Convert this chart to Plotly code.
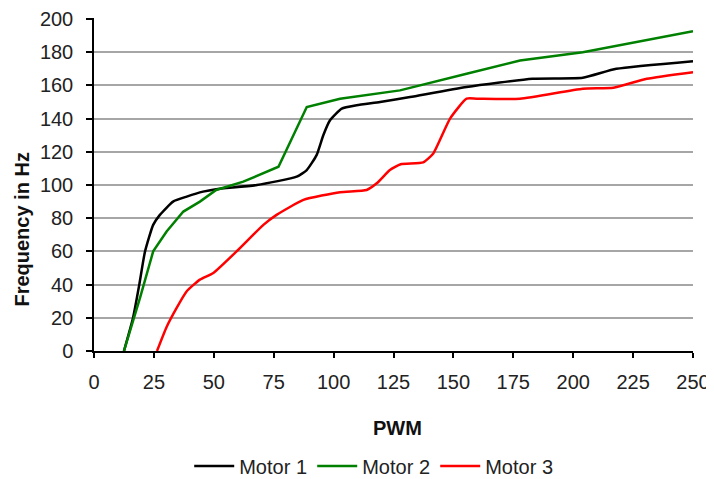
import plotly.graph_objects as go

# PWM / frequency readings per motor
pwm_m1 = [12.5, 16.3, 18.9, 21.3, 24.7, 27.5, 33, 38.7, 45.5, 51, 68, 84.6, 88.8, 92.9,
          95.7, 98.5, 103.4, 109.6, 119.4, 131.9, 155.5, 183, 204, 218, 250]
freq_m1 = [0, 20, 40, 60, 76, 82, 90, 93, 96, 97.5, 100, 105, 109, 118,
           130, 139, 146, 148, 150, 153, 159, 164, 164.6, 170, 174.6]

pwm_m2 = [12.5, 19.2, 24.7, 30.3, 37.3, 44.2, 51, 62.3, 77, 88.8, 102.7, 127.7, 155.5,
          177.8, 204, 250]
freq_m2 = [0, 32, 60, 72, 84, 90, 97, 102, 111, 147, 152, 157, 167,
           175, 180, 192.6]

pwm_m3 = [26.3, 30.3, 34.5, 38.7, 44.2, 49.8, 59.5, 70.7, 76.2, 87.4, 102.7, 113.8, 118,
          123.5, 128, 137.4, 141.6, 148.6, 155.5, 159.7, 177.8, 204, 216.8, 230.7, 250]
freq_m3 = [0, 14.5, 26, 36, 43, 47, 60, 76, 82, 91, 95.7, 97, 101,
           109, 112.5, 113.6, 119, 140, 152, 152, 152, 158, 158.6, 164, 168]

names = ['Motor 1', 'Motor 2', 'Motor 3']
colors = ['#000000', '#008000', '#ff0000']

FONT = 'Liberation Sans, Arial, sans-serif'

fig = go.Figure()
series = [(pwm_m1, freq_m1, 'spline'), (pwm_m2, freq_m2, 'linear'), (pwm_m3, freq_m3, 'spline')]
for (x, y, shp), name, col in zip(series, names, colors):
    fig.add_trace(go.Scatter(x=x, y=y, name=name, mode='lines',
                             line=dict(color=col, width=2.5, shape=shp, smoothing=0.5)))

# page body has an 8px margin, so the figure is 8px smaller than the window
fig.update_layout(
    width=706, height=471,
    margin=dict(l=86, r=21, t=10, b=128),
    plot_bgcolor='white', paper_bgcolor='white',
    font=dict(family=FONT, size=20, color='#222222'),
    showlegend=True,
    # legend placed against the whole figure so it does not shrink the plot area
    legend=dict(orientation='h', xref='container', yref='container',
                x=0.518, xanchor='center', y=0.0276, yanchor='middle',
                itemwidth=40, entrywidth=68,
                font=dict(family=FONT, size=20, color='#222222'),
                bgcolor='rgba(0,0,0,0)'),
    annotations=[
        dict(text='<b>Frequency in Hz</b>', textangle=-90, xref='paper', yref='paper',
             x=-0.12, y=0.365, xanchor='center', yanchor='middle', showarrow=False,
             font=dict(family=FONT, size=20, color='#111111')),
        dict(text='<b>PWM</b>', xref='paper', yref='paper',
             x=0.507, y=-0.2315, xanchor='center', yanchor='middle', showarrow=False,
             font=dict(family=FONT, size=20, color='#111111')),
    ],
)

fig.update_xaxes(range=[0, 250], dtick=25, tick0=0, showgrid=False, zeroline=False,
                 showline=True, linecolor='black', linewidth=1.5,
                 ticks='outside', ticklen=5, tickwidth=1.5, tickcolor='black',
                 ticklabelstandoff=7, ticklabeloverflow='allow', automargin=False)
# a hair of headroom so the 200 gridline is drawn
fig.update_yaxes(range=[0, 200.6], dtick=20, tick0=0, showgrid=True, gridcolor='#a6a6a6',
                 gridwidth=1.5, zeroline=False,
                 showline=True, linecolor='black', linewidth=1.5,
                 ticks='outside', ticklen=6, tickwidth=1.5, tickcolor='black',
                 ticklabelstandoff=9, ticklabeloverflow='allow', automargin=False)

fig.write_html("out.html")
